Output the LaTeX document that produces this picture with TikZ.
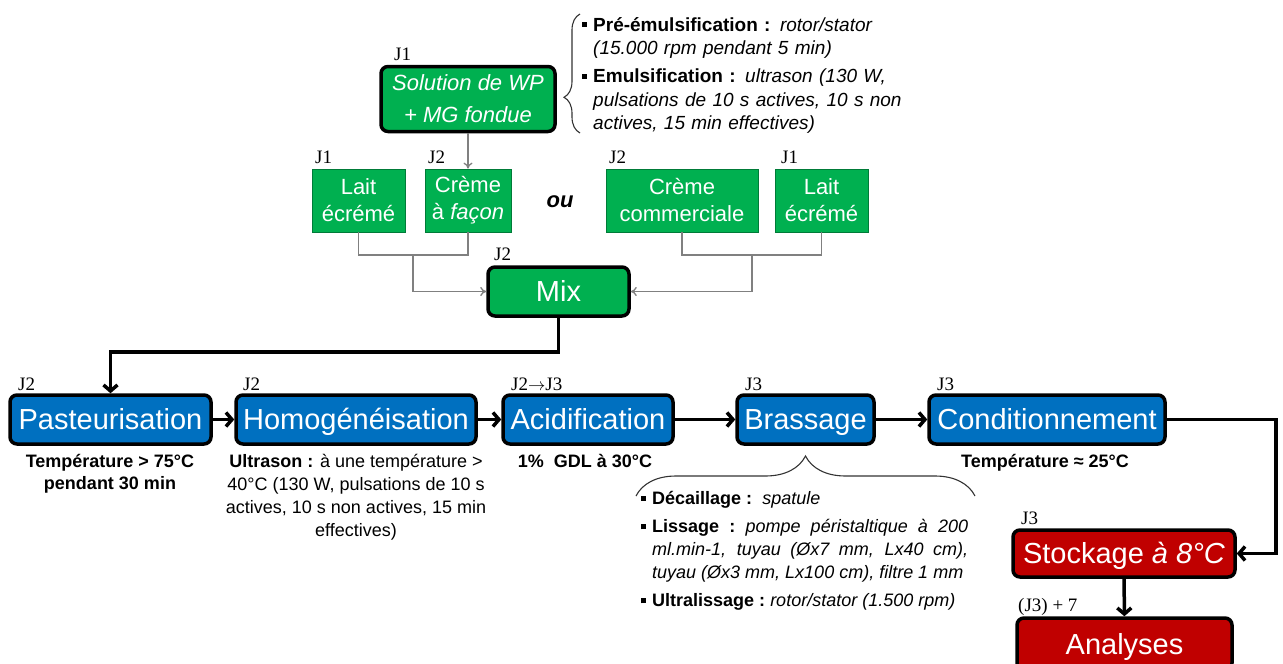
\documentclass[tikz,border=0pt]{standalone}
\usepackage{fontspec}
\setmainfont{Liberation Sans}
\newfontfamily\timesf{Liberation Serif}
\usetikzlibrary{arrows.meta,decorations.pathreplacing}
\definecolor{gr}{HTML}{00B050}
\definecolor{bl}{HTML}{0070C0}
\definecolor{rd}{HTML}{C00000}
\definecolor{gline}{HTML}{808080}
\newcommand{\sqbul}{\makebox[11pt][l]{\raisebox{0.2em}{\rule{0.27em}{0.27em}}}}
\begin{document}
\begin{tikzpicture}[x=1pt,y=-1pt,
 bigbox/.style={draw=black, line width=3.5pt, rounded corners=7pt, text=white, inner sep=0pt, text height=24pt, text depth=4pt, font=\fontsize{29}{33}\selectfont},
 bluebox/.style={bigbox, fill=bl},
 redbox/.style={bigbox, fill=rd},
 greenbig/.style={bigbox, fill=gr},
 smallbox/.style={draw=gr!70!black, line width=0.8pt, fill=gr, text=white, inner sep=0pt, align=center, font=\fontsize{22}{27}\selectfont},
 jlab/.style={anchor=base west, inner sep=0pt, font=\timesf\fontsize{19}{22}\selectfont},
 grayline/.style={draw=gline, line width=1.3pt},
 grayarrow/.style={grayline, -{To[length=6pt,width=9pt]}},
 bigline/.style={line width=3.5pt},
 bigarrow/.style={bigline, -{Straight Barb[length=6pt,width=14pt]}},
 desc/.style={inner sep=0pt, align=center, font=\fontsize{18}{23}\selectfont},
 bracestyle/.style={draw=black!80, line width=1.1pt, decorate}
]
\useasboundingbox (0,0) rectangle (1283,664);
\clip (0,0) rectangle (1283,664);

% top green box
\node[draw=black, line width=3.5pt, rounded corners=7pt, fill=gr, text=white, inner sep=0pt, minimum width=174pt, minimum height=65pt, align=center, font=\itshape\fontsize{22}{32}\selectfont] (sol) at (468,99) {Solution de WP\\+ MG fondue};
\node[jlab] (jsol) at (394,60) {J1};

% top brace and text
\coordinate (tb1) at (580,133);
\coordinate (tb2) at (580,14);
\draw[bracestyle, decoration={brace, amplitude=16pt, aspect=0.3}] (tb1) -- (tb2);
\node[anchor=north west, inner sep=0pt, text width=340pt, align=left, font=\fontsize{19}{23.5}\selectfont] (pretext) at (582,17)
 {\sqbul\textbf{Pré-émulsification :} \textit{rotor/stator}\\
  \hspace*{11pt}\textit{(15.000 rpm pendant 5 min)}\\[4.5pt]
  \sqbul\textbf{Emulsification :} \textit{ultrason (130 W,}\\
  \hspace*{11pt}\textit{pulsations de 10 s actives, 10 s non}\\
  \hspace*{11pt}\textit{actives, 15 min effectives)}};

% small green boxes
\node[smallbox, minimum width=93pt, minimum height=63pt] (l1) at (358.5,200.5) {Lait\\écrémé};
\node[smallbox, minimum width=86pt, minimum height=63pt] (cf) at (468,200.5) {Crème\\à \textit{façon}};
\node[smallbox, minimum width=152pt, minimum height=63pt] (cc) at (682,200.5) {Crème\\commerciale};
\node[smallbox, minimum width=93pt, minimum height=63pt] (l2) at (821.5,200.5) {Lait\\écrémé};
\node[jlab] (jl1) at (315,163) {J1};
\node[jlab] (jcf) at (428,163) {J2};
\node[jlab] (jcc) at (609,163) {J2};
\node[jlab] (jl2) at (781,163) {J1};
\node[inner sep=0pt, font=\bfseries\itshape\fontsize{22}{26}\selectfont] (ou) at (560,202) {ou};

\draw[grayarrow] (sol.south) -- (cf.north);

% Mix
\node[greenbig, minimum width=141pt, minimum height=49pt] (mix) at (558.5,291.5) {Mix};
\node[jlab] (jmix) at (494,260) {J2};

\coordinate (jl) at (413,255);
\coordinate (jr) at (752,255);
\draw[grayline] (l1.south) |- (jl) -| (cf.south);
\draw[grayarrow] (jl) |- (mix.west);
\draw[grayline] (cc.south) |- (jr) -| (l2.south);
\draw[grayarrow] (jr) |- (mix.east);

% blue process boxes
\node[bluebox, minimum width=201pt, minimum height=49pt] (past) at (110.5,419.5) {Pasteurisation};
\node[bluebox, minimum width=240pt, minimum height=49pt] (homo) at (356,419.5) {Homogénéisation};
\node[bluebox, minimum width=170pt, minimum height=49pt] (acid) at (588,419.5) {Acidification};
\node[bluebox, minimum width=137pt, minimum height=49pt] (bras) at (805.5,419.5) {Brassage};
\node[bluebox, minimum width=236pt, minimum height=49pt] (cond) at (1047,419.5) {Conditionnement};

\node[jlab] (jpast) at (18,390) {J2};
\node[jlab] (jhomo) at (243,390) {J2};
\node[jlab] (jacid) at (511,390) {J2$\rightarrow$J3};
\node[jlab] (jbras) at (745,390) {J3};
\node[jlab] (jcond) at (937,390) {J3};

\coordinate (mixdown) at (558.5,352);
\draw[bigarrow] (mix.south) -- (mixdown) -| (past.north);
\draw[bigarrow] (past) -- (homo);
\draw[bigarrow] (homo) -- (acid);
\draw[bigarrow] (acid) -- (bras);
\draw[bigarrow] (bras) -- (cond);

% descriptions
\node[desc, anchor=north, font=\bfseries\fontsize{18}{22.5}\selectfont] (dpast) at (110,454) {Température > 75°C\\pendant 30 min};
\node[desc, anchor=north] (dhomo) at (356,454) {\textbf{Ultrason :} à une température >\\40°C (130 W, pulsations de 10 s\\actives, 10 s non actives, 15 min\\effectives)};
\node[desc, anchor=north, font=\bfseries\fontsize{18}{22.5}\selectfont] (dacid) at (585,454) {1\%\ \ GDL à 30°C};
\node[desc, anchor=north, font=\bfseries\fontsize{18}{22.5}\selectfont] (dcond) at (1045,454) {Température ≈ 25°C};

% brace under Brassage
\coordinate (bb1) at (636,496);
\coordinate (bb2) at (975,496);
\draw[bracestyle, decoration={brace, amplitude=40pt}] (bb1) -- (bb2);
\node[anchor=north west, inner sep=0pt, text width=327pt, align=justify, font=\fontsize{18}{23}\selectfont] (dbras) at (641,491)
 {\setlength{\parindent}{0pt}%
  \sqbul\textbf{Décaillage :}\ \ \textit{spatule}\par\vspace{5.5pt}
  \hangindent=11pt\hangafter=1\sqbul\textbf{Lissage :}\ \textit{pompe péristaltique à 200\linebreak ml.min-1, tuyau (Øx7 mm, Lx40 cm),\linebreak tuyau (Øx3 mm, Lx100 cm), filtre 1 mm}\par\vspace{5pt}
  \sqbul\textbf{Ultralissage :}\ \textit{rotor/stator (1.500 rpm)}\par};

% red boxes
\node[redbox, minimum width=222pt, minimum height=47pt] (stock) at (1124,553.5) {Stockage \textit{à 8°C}};
\node[redbox, minimum width=215pt, minimum height=52pt] (anal) at (1124.5,644) {Analyses};
\node[jlab] (jstock) at (1021,524) {J3};
\node[jlab] (janal) at (1018,611) {(J3) + 7};

\coordinate (cr) at (1276,419.5);
\draw[bigarrow] (cond.east) -- (cr) |- (stock.east);
\draw[bigarrow] (stock) -- (anal);
\end{tikzpicture}
\end{document}
